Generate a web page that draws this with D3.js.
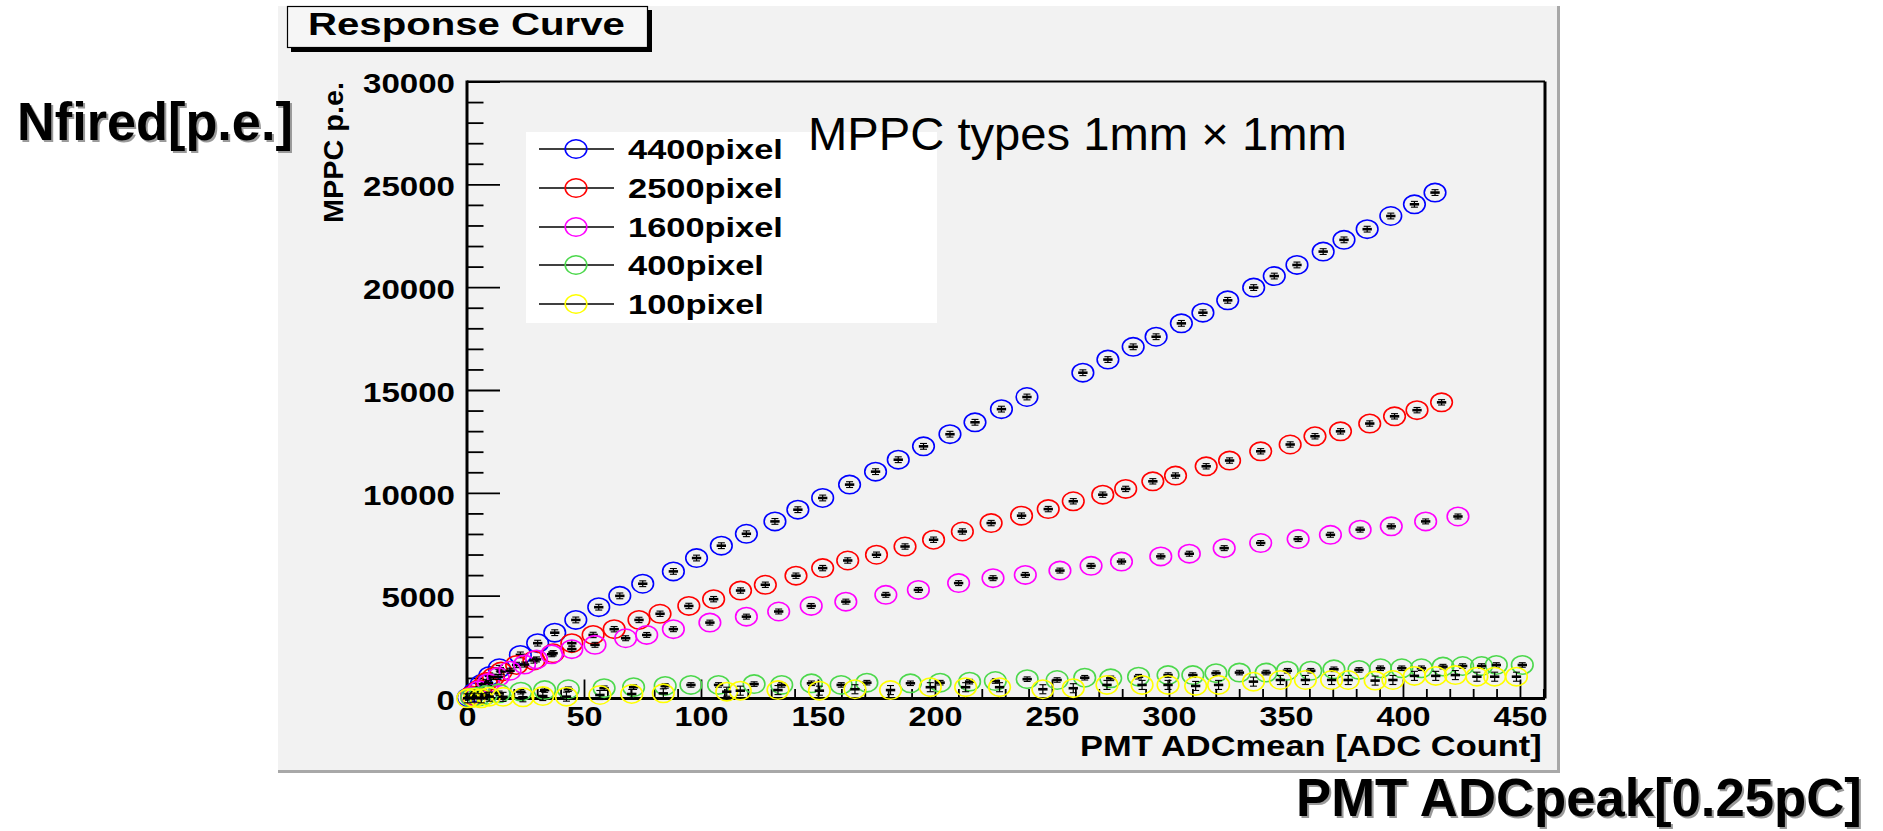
<!DOCTYPE html>
<html><head><meta charset="utf-8">
<script src="https://cdn.jsdelivr.net/npm/d3@7"></script>
<style>body{margin:0;background:#fff;overflow:hidden} svg{display:block}</style>
</head><body>
<svg id="c" width="1883" height="831"></svg>
<script>
// ---------------- DATA ----------------
const seriesNames = ["4400pixel", "2500pixel", "1600pixel", "400pixel", "100pixel"];
const seriesColors = ["#0000ff", "#ff0000", "#ff00ff", "#4cd84c", "#ffff00"];

const x4400 = [0.5, 3.1, 6.1, 9.7, 13.8, 22.8, 30.2, 37.5, 46.5, 56.3, 65.3, 75.1, 88.2, 98.1, 108.7, 119.4, 131.6, 141.4, 152.0, 163.5, 174.6, 184.3, 195.1, 206.4, 217.1, 228.4, 239.3, 263.2, 273.9, 284.7, 294.5, 305.3, 314.5, 325.1, 336.2, 345.0, 354.7, 365.9, 374.8, 384.7, 394.8, 404.9, 413.7];
const y4400 = [50, 300, 700, 1100, 1470, 2120, 2690, 3200, 3820, 4440, 4990, 5580, 6180, 6830, 7430, 8010, 8610, 9180, 9750, 10400, 11030, 11610, 12260, 12850, 13430, 14070, 14660, 15840, 16480, 17100, 17590, 18240, 18760, 19360, 19980, 20540, 21080, 21730, 22300, 22820, 23460, 24030, 24600];

const x2500 = [2.0, 5.1, 8.2, 11.3, 14.6, 21.2, 28.6, 36.8, 44.8, 53.9, 62.9, 73.5, 82.5, 94.8, 105.4, 116.9, 127.5, 140.6, 152.0, 162.7, 175.0, 187.2, 199.4, 211.7, 224.0, 237.0, 248.4, 259.1, 271.7, 281.5, 293.1, 302.8, 315.9, 325.9, 339.2, 351.8, 362.4, 373.3, 385.8, 396.4, 406.0, 416.5];
const y2500 = [150, 450, 800, 1050, 1310, 1630, 1850, 2200, 2690, 3090, 3370, 3820, 4120, 4500, 4830, 5250, 5530, 5970, 6340, 6710, 6990, 7390, 7720, 8120, 8530, 8890, 9210, 9590, 9910, 10190, 10560, 10840, 11290, 11570, 12020, 12350, 12750, 12990, 13370, 13720, 14020, 14400];

const x1600 = [2.0, 5.1, 9.2, 13.3, 18.4, 24.6, 29.7, 36.2, 44.8, 54.7, 67.8, 76.8, 88.2, 103.8, 119.4, 133.2, 147.1, 161.9, 179.0, 192.9, 210.1, 224.8, 238.6, 253.4, 266.7, 279.7, 296.5, 308.7, 323.6, 339.2, 355.2, 369.0, 381.7, 395.0, 409.7, 423.5];
const y1600 = [100, 400, 750, 1050, 1350, 1650, 1900, 2150, 2400, 2610, 2930, 3090, 3370, 3690, 3980, 4230, 4500, 4710, 5040, 5280, 5610, 5850, 6010, 6220, 6450, 6660, 6910, 7040, 7310, 7560, 7750, 7960, 8210, 8370, 8610, 8850];

const x400 = [2.0, 5.1, 8.2, 13.7, 23.0, 33.2, 43.3, 58.6, 71.2, 84.7, 95.7, 107.5, 122.7, 134.5, 147.2, 159.9, 170.9, 189.5, 202.2, 214.8, 225.8, 239.4, 252.2, 264.0, 275.1, 287.0, 299.6, 310.2, 320.1, 330.1, 341.5, 350.6, 360.6, 370.5, 381.2, 390.4, 399.5, 407.9, 417.1, 425.5, 433.6, 439.9, 451.0];
const y400 = [50, 100, 170, 250, 330, 410, 450, 500, 550, 610, 660, 660, 700, 660, 740, 660, 770, 740, 770, 820, 850, 940, 900, 1010, 980, 1060, 1140, 1140, 1230, 1260, 1260, 1350, 1350, 1420, 1390, 1470, 1470, 1470, 1550, 1580, 1580, 1630, 1630];

const x100 = [0.3, 3.1, 6.1, 9.5, 15.4, 23.9, 32.4, 42.5, 56.8, 70.4, 83.9, 111.0, 116.8, 132.9, 150.6, 165.8, 181.0, 198.0, 213.1, 227.6, 246.1, 259.1, 273.5, 288.5, 299.6, 311.4, 321.2, 336.1, 347.6, 358.3, 369.5, 376.6, 388.1, 395.7, 404.9, 414.0, 422.4, 431.6, 439.2, 448.5];
const y100 = [10, 40, 10, 90, 80, 60, 120, 90, 170, 220, 250, 330, 380, 410, 380, 450, 410, 550, 550, 550, 450, 500, 660, 660, 660, 610, 660, 820, 900, 900, 900, 900, 870, 900, 1100, 1100, 1140, 1060, 1060, 1060];

const seriesX = [x4400, x2500, x1600, x400, x100];
const seriesY = [y4400, y2500, y1600, y400, y100];
const errX = 2;                          // x error (ADC counts)
const errY = [140, 130, 120, 110, 220];  // y error per series (p.e.)

const xTicksMajor = [0, 50, 100, 150, 200, 250, 300, 350, 400, 450];
const xTicksMinor = d3.range(0, 461, 10).filter(v => v % 50 !== 0);
const yTicksMajor = [0, 5000, 10000, 15000, 20000, 25000, 30000];
const yTicksMinor = d3.range(0, 30001, 1000).filter(v => v % 5000 !== 0);

const titleText = "Response Curve";
const xTitle = "PMT ADCmean [ADC Count]";
const yTitle = "MPPC p.e.";
const noteMain = "MPPC types 1mm";
const noteTimes = " × ";
const noteEnd = "1mm";
const outerYLabel = "Nfired[p.e.]";
const outerXLabel = "PMT ADCpeak[0.25pC]";

// ---------------- DRAW ----------------
const FONT = "'Liberation Sans', Arial, Helvetica, sans-serif";
const svg = d3.select("#c");

const x = d3.scaleLinear().domain([0, 460.7]).range([467, 1545]);
const y = d3.scaleLinear().domain([0, 30000]).range([698.5, 81.5]);

// make a text exactly `width` wide: widen with a horizontal scale, or
// narrow by reducing the font size and restoring height with a vertical scale
function fitText(t, width) {
  const size = +t.attr("font-size");
  const w = t.node().getComputedTextLength();
  const x0 = +t.attr("x"), y0 = +t.attr("y");
  t.attr("x", 0).attr("y", 0);
  if (w > width) {
    const ns = size * width / w;
    t.attr("font-size", ns).attr("transform", `translate(${x0},${y0}) scale(1,${size / ns})`);
  } else {
    t.attr("transform", `translate(${x0},${y0}) scale(${width / w},1)`);
  }
  return t;
}
function addText(tx, ty, size, weight, str, width, fill) {
  const t = svg.append("text").attr("x", tx).attr("y", ty).attr("font-family", FONT)
    .attr("font-weight", weight).attr("font-size", size).attr("fill", fill || "#000").text(str);
  return fitText(t, width);
}

// canvas
svg.append("rect").attr("x", 278).attr("y", 6).attr("width", 1282).attr("height", 767).attr("fill", "#a8a8a8");
svg.append("rect").attr("x", 278).attr("y", 6).attr("width", 1279).attr("height", 764).attr("fill", "#f2f2f2");

// title box
svg.append("rect").attr("x", 291).attr("y", 10).attr("width", 361).attr("height", 42).attr("fill", "#000");
svg.append("rect").attr("x", 287.5).attr("y", 6.5).attr("width", 360).attr("height", 41).attr("fill", "#f6f6f6").attr("stroke", "#000").attr("stroke-width", 1.2);
addText(308, 35, 32, "bold", titleText, 317);

// minor ticks
const gyMinor = svg.append("g").attr("transform", `translate(${x(0)},0)`)
  .call(d3.axisLeft(y).tickValues(yTicksMinor).tickSizeInner(-16.5).tickSizeOuter(0).tickFormat(""));
const gxMinor = svg.append("g").attr("transform", `translate(0,${y(0)})`)
  .call(d3.axisBottom(x).tickValues(xTicksMinor).tickSizeInner(-9.5).tickSizeOuter(0).tickFormat(""));
// major ticks + labels
const gy = svg.append("g").attr("transform", `translate(${x(0)},0)`)
  .call(d3.axisLeft(y).tickValues(yTicksMajor).tickSizeInner(-33).tickSizeOuter(0).tickPadding(12).tickFormat(d3.format("d")));
const gx = svg.append("g").attr("transform", `translate(0,${y(0)})`)
  .call(d3.axisBottom(x).tickValues(xTicksMajor).tickSizeInner(-19).tickSizeOuter(0).tickPadding(8).tickFormat(d3.format("d")));
[gyMinor, gxMinor, gy, gx].forEach(g => {
  g.select(".domain").remove();
  g.selectAll("line").attr("stroke", "#000").attr("stroke-width", 1.8);
});
gy.selectAll("text").attr("font-family", FONT).attr("font-weight", "bold").attr("font-size", 28)
  .attr("fill", "#000").attr("dy", "0.4em")
  .attr("textLength", function () { return this.textContent.length * 18.4; })
  .attr("lengthAdjust", "spacingAndGlyphs");
gx.selectAll("text").attr("font-family", FONT).attr("font-weight", "bold").attr("font-size", 28)
  .attr("fill", "#000")
  .attr("textLength", function () { return this.textContent.length * 18.0; })
  .attr("lengthAdjust", "spacingAndGlyphs");

// frame
svg.append("line").attr("x1", x(0)).attr("x2", x.range()[1]).attr("y1", y(30000)).attr("y2", y(30000)).attr("stroke", "#000").attr("stroke-width", 2);
svg.append("line").attr("x1", x.range()[1]).attr("x2", x.range()[1]).attr("y1", y(30000)).attr("y2", y(0)).attr("stroke", "#000").attr("stroke-width", 3);
svg.append("line").attr("x1", x(0)).attr("x2", x(0)).attr("y1", y(30000) - 1).attr("y2", y(0) + 1.5).attr("stroke", "#000").attr("stroke-width", 3);
svg.append("line").attr("x1", x(0) - 1.5).attr("x2", x.range()[1]).attr("y1", y(0)).attr("y2", y(0)).attr("stroke", "#000").attr("stroke-width", 3);

// axis titles
addText(1080, 756, 29, "bold", xTitle, 462);
svg.append("text").attr("transform", "translate(343,223) rotate(-90)").attr("font-family", FONT)
  .attr("font-weight", "bold").attr("font-size", 28).attr("textLength", 141).attr("lengthAdjust", "spacingAndGlyphs").text(yTitle);

// legend
const legRowY = [149, 188, 227, 265, 304];
const legWidths = [155, 155, 155, 136, 136];
svg.append("rect").attr("x", 526).attr("y", 132).attr("width", 411).attr("height", 191).attr("fill", "#fff");
const leg = svg.append("g");
seriesNames.forEach((name, i) => {
  const ry = legRowY[i];
  leg.append("line").attr("x1", 539).attr("x2", 614).attr("y1", ry).attr("y2", ry).attr("stroke", "#000").attr("stroke-width", 1.6);
  leg.append("ellipse").attr("cx", 576).attr("cy", ry).attr("rx", 10.8).attr("ry", 9.2)
    .attr("fill", "none").attr("stroke", seriesColors[i]).attr("stroke-width", 1.6);
  addText(628, ry + 10, 28, "bold", name, legWidths[i]);
});

// data points
const plot = svg.append("g");
seriesNames.forEach((name, i) => {
  const pts = seriesX[i].map((xv, j) => ({ x: xv, y: seriesY[i][j] }));
  const g = plot.append("g");
  g.selectAll("ellipse").data(pts).join("ellipse")
    .attr("cx", d => x(d.x)).attr("cy", d => y(d.y)).attr("rx", 10.8).attr("ry", 9.2)
    .attr("fill", "none").attr("stroke", seriesColors[i]).attr("stroke-width", 1.6);
  const eb = g.selectAll("g.eb").data(pts).join("g").attr("class", "eb");
  eb.append("line").attr("x1", d => x(d.x - errX)).attr("x2", d => x(d.x + errX))
    .attr("y1", d => y(d.y)).attr("y2", d => y(d.y)).attr("stroke", "#000").attr("stroke-width", 2.6);
  eb.append("line").attr("x1", d => x(d.x)).attr("x2", d => x(d.x))
    .attr("y1", d => y(d.y - errY[i])).attr("y2", d => y(d.y + errY[i])).attr("stroke", "#000").attr("stroke-width", 1.2);
  eb.append("line").attr("x1", d => x(d.x) - 3.5).attr("x2", d => x(d.x) + 3.5)
    .attr("y1", d => y(d.y + errY[i])).attr("y2", d => y(d.y + errY[i])).attr("stroke", "#000").attr("stroke-width", 1.1);
  eb.append("line").attr("x1", d => x(d.x) - 3.5).attr("x2", d => x(d.x) + 3.5)
    .attr("y1", d => y(d.y - errY[i])).attr("y2", d => y(d.y - errY[i])).attr("stroke", "#000").attr("stroke-width", 1.1);
});

// annotation text
const note = svg.append("text").attr("x", 808).attr("y", 150).attr("font-family", FONT)
  .attr("font-size", 47).attr("fill", "#000").attr("xml:space", "preserve");
note.append("tspan").text(noteMain);
note.append("tspan").text(noteTimes);
note.append("tspan").text(noteEnd);
fitText(note, 539);

// outer labels with shadow
function shadowText(tx, ty, size, len, str) {
  addText(tx + 2, ty + 2, size, "bold", str, len, "#9a9a9a");
  addText(tx, ty, size, "bold", str, len, "#000");
}
shadowText(17, 140, 53, 276, outerYLabel);
shadowText(1296, 816, 54, 566, outerXLabel);
</script>
</body></html>
